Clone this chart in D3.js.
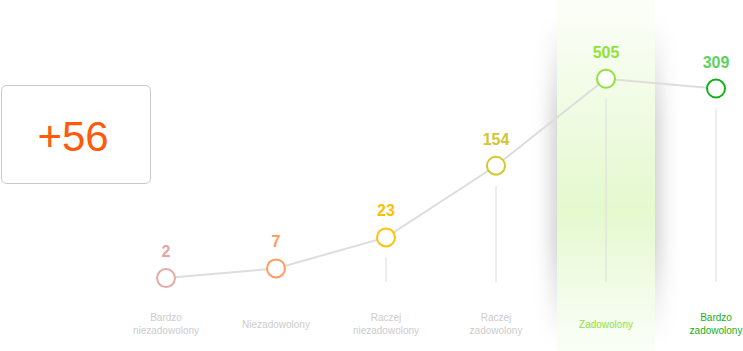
<!DOCTYPE html>
<html>
<head>
<meta charset="utf-8">
<script src="https://cdn.jsdelivr.net/npm/d3@7"></script>
<style>
  body { margin: 0; background: #fff; }
  svg { display: block; font-family: "Liberation Sans", Arial, sans-serif; }
</style>
</head>
<body>
<div id="chart"></div>
<script>
const categories = [
  ["Bardzo", "niezadowolony"],
  ["Niezadowolony"],
  ["Raczej", "niezadowolony"],
  ["Raczej", "zadowolony"],
  ["Zadowolony"],
  ["Bardzo", "zadowolony"]
];
const counts = [2, 7, 23, 154, 505, 309];
const circleColors = ["#e3aaa6", "#ff9b5e", "#ffc107", "#d2c82c", "#8ee23a", "#14b01a"];
const labelColors = ["#e3a6a2", "#ff9b5e", "#ffbf00", "#d2c536", "#8ee23a", "#5fd15f"];
const catColors = ["#cccccc", "#cccccc", "#cccccc", "#cccccc", "#8ee23a", "#14b01a"];
const highlighted = 4;
const score = "+56";

const width = 743, height = 351;

const svg = d3.select("#chart").append("svg")
  .attr("width", width)
  .attr("height", height);

const defs = svg.append("defs");

const x = d3.scalePoint()
  .domain(d3.range(counts.length))
  .range([166, 716]);

// piecewise scale, the chart squeezes the high end
const y = d3.scaleLinear()
  .domain([0, 25, 300, 600])
  .range([282, 233.5, 89, 74]);

const baseY = y(0);

// highlight band
const bandW = 98;
const bandG = defs.append("linearGradient")
  .attr("id", "bandGrad").attr("x1", 0).attr("x2", 0).attr("y1", 0).attr("y2", 1);
bandG.append("stop").attr("offset", "0%").attr("stop-color", "#fcfef8");
bandG.append("stop").attr("offset", "35%").attr("stop-color", "#eefbe0");
bandG.append("stop").attr("offset", "60%").attr("stop-color", "#e5f9cf");
bandG.append("stop").attr("offset", "85%").attr("stop-color", "#f3fcea");
bandG.append("stop").attr("offset", "100%").attr("stop-color", "#fafef6");

const shadowG = defs.append("linearGradient")
  .attr("id", "shadowGrad").attr("x1", 0).attr("x2", 0).attr("y1", 0).attr("y2", 1);
shadowG.append("stop").attr("offset", "0%").attr("stop-color", "#000").attr("stop-opacity", 0);
shadowG.append("stop").attr("offset", "30%").attr("stop-color", "#000").attr("stop-opacity", 0.22);
shadowG.append("stop").attr("offset", "70%").attr("stop-color", "#000").attr("stop-opacity", 0.22);
shadowG.append("stop").attr("offset", "100%").attr("stop-color", "#000").attr("stop-opacity", 0);

defs.append("filter").attr("id", "blur")
  .attr("x", "-50%").attr("y", "-20%").attr("width", "200%").attr("height", "140%")
  .append("feGaussianBlur").attr("stdDeviation", 10);

const bx = x(highlighted) - bandW / 2;
svg.append("rect")
  .attr("x", bx - 4).attr("y", 20)
  .attr("width", bandW + 8).attr("height", height - 30)
  .attr("fill", "url(#shadowGrad)")
  .attr("filter", "url(#blur)");
svg.append("rect")
  .attr("x", bx).attr("y", 0)
  .attr("width", bandW).attr("height", height)
  .attr("fill", "url(#bandGrad)");

// score box
svg.append("rect")
  .attr("x", 1.5).attr("y", 85.5)
  .attr("width", 149).attr("height", 98)
  .attr("rx", 5)
  .attr("fill", "#fff")
  .attr("stroke", "#c8c8c8");
svg.append("text")
  .attr("x", 73).attr("y", 151)
  .attr("text-anchor", "middle")
  .style("font-size", "42px")
  .style("fill", "#ff5a0a")
  .text(score);

// drop lines
svg.selectAll(".drop")
  .data(counts.map((v, i) => ({ v, i })).filter(d => baseY - (y(d.v) + 20) > 4))
  .enter().append("line")
  .attr("x1", d => x(d.i)).attr("x2", d => x(d.i))
  .attr("y1", d => y(d.v) + 20).attr("y2", baseY)
  .attr("stroke", "#dcdcdc")
  .attr("stroke-width", 1);

// connecting line
svg.append("path")
  .datum(counts)
  .attr("fill", "none")
  .attr("stroke", "#dddddd")
  .attr("stroke-width", 2)
  .attr("d", d3.line().x((d, i) => x(i)).y(d => y(d)));

// points
svg.selectAll(".pt")
  .data(counts)
  .enter().append("circle")
  .attr("cx", (d, i) => x(i))
  .attr("cy", d => y(d))
  .attr("r", 9)
  .attr("fill", "#fff")
  .attr("stroke", (d, i) => circleColors[i])
  .attr("stroke-width", 2);

// value labels
svg.selectAll(".val")
  .data(counts)
  .enter().append("text")
  .attr("x", (d, i) => x(i))
  .attr("y", d => y(d) - 21)
  .attr("text-anchor", "middle")
  .style("font-size", "16px")
  .style("font-weight", "bold")
  .style("fill", (d, i) => labelColors[i])
  .text(d => d);

// category labels
const cat = svg.selectAll(".cat")
  .data(categories)
  .enter().append("text")
  .attr("text-anchor", "middle")
  .attr("y", d => d.length > 1 ? 321 : 327.5)
  .style("font-size", "10px")
  .style("fill", (d, i) => catColors[i]);

cat.each(function(lines, i) {
  d3.select(this).selectAll("tspan")
    .data(lines)
    .enter().append("tspan")
    .attr("x", x(i))
    .attr("dy", (t, j) => j === 0 ? 0 : 13)
    .text(t => t);
});
</script>
</body>
</html>
